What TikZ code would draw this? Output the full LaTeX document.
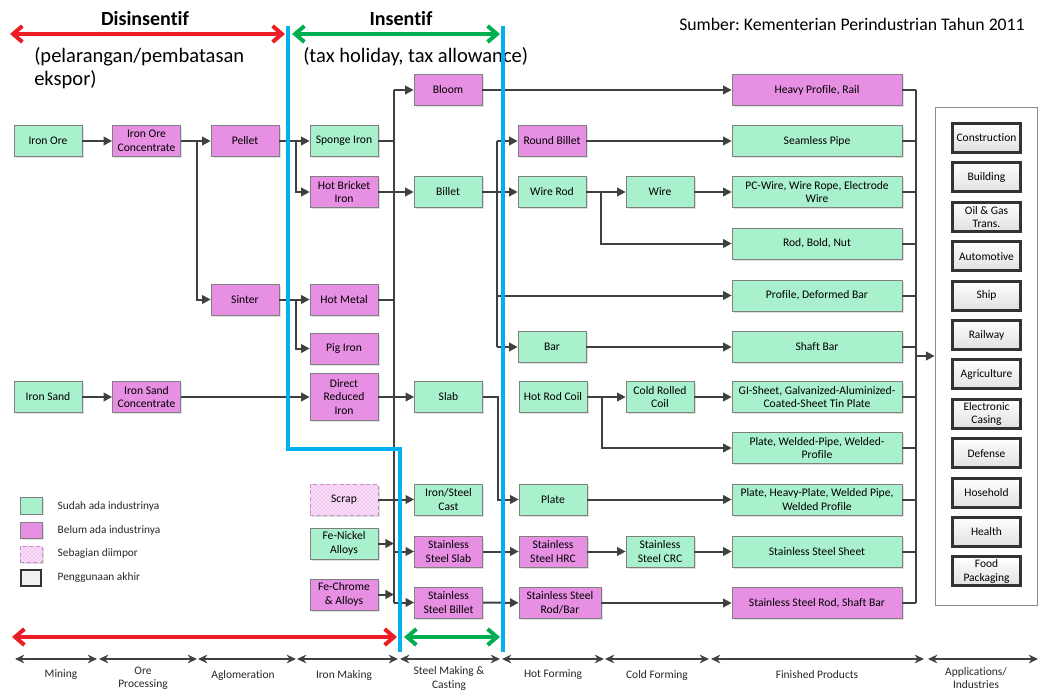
\documentclass[tikz,border=0pt]{standalone}
\usepackage{fontspec}
\setmainfont{Carlito}[Ligatures={NoCommon}]
\frenchspacing
\usetikzlibrary{arrows.meta,shadows,patterns}
\definecolor{gfill}{HTML}{A9F0CC}
\definecolor{pfill}{HTML}{E68FE3}
\definecolor{bordc}{HTML}{808080}
\definecolor{conn}{HTML}{404040}
\definecolor{bluel}{HTML}{00B0F0}
\definecolor{redl}{HTML}{EE1C25}
\definecolor{greenl}{HTML}{00B050}
\begin{document}
\begin{tikzpicture}[x=0.75pt,y=-0.75pt,
  bx/.style={draw=bordc, line width=0.5pt, align=center, inner sep=1pt,
    minimum width=51pt, minimum height=23.25pt,
    font=\fontsize{8.7}{10.3}\selectfont,
    drop shadow={opacity=0.25, shadow xshift=1.2pt, shadow yshift=-1.2pt}},
  gb/.style={bx, fill=gfill},
  pb/.style={bx, fill=pfill},
  scrapbox/.style={bx, draw=pfill!70!gray, densely dashed, fill=pfill!30,
    postaction={pattern=crosshatch dots, pattern color=pfill}},
  prod/.style={minimum width=127.5pt},
  appb/.style={draw=black!80, line width=2.2pt, top color=white, bottom color=black!12,
    minimum width=51pt, minimum height=21.75pt, align=center, inner sep=0.5pt,
    font=\fontsize{8.6}{10}\selectfont},
  ln/.style={draw=conn, line width=1.5pt},
  ar/.style={ln, -{Triangle[length=6.5pt,width=6.5pt]}},
  blueln/.style={draw=bluel, line width=3pt},
  redar/.style={draw=redl, line width=3pt, {Straight Barb[length=7pt,width=12pt]}-{Straight Barb[length=7pt,width=12pt]}},
  greenar/.style={draw=greenl, line width=3pt, {Straight Barb[length=7pt,width=12pt]}-{Straight Barb[length=7pt,width=12pt]}},
  axar/.style={draw=conn, line width=1.1pt, {Stealth[length=7pt,width=6.5pt]}-{Stealth[length=7pt,width=6.5pt]}},
  axlbl/.style={align=center, font=\fontsize{8.6}{9.8}\selectfont, text=black!85},
  lgt/.style={anchor=west, font=\fontsize{8.5}{10}\selectfont, text=black!85}
]
\useasboundingbox (0,0) rectangle (1042,692);

% ---------- headings ----------
\node[font=\fontsize{15}{17}\bfseries\selectfont] (dis) at (145,19) {Disinsentif};
\node[font=\fontsize{15}{17}\bfseries\selectfont] (ins) at (401,19) {Insentif};
\node[anchor=west, align=left, inner sep=0pt, font=\fontsize{15.4}{17.25}\selectfont] (pel) at (34,68.5) {(pelarangan/pembatasan\\ekspor)};
\node[anchor=west, inner sep=0pt, font=\fontsize{15.4}{17}\selectfont] (tax) at (303,57) {(tax holiday, tax allowance)};
\node[anchor=east, inner sep=0pt, font=\fontsize{13.3}{15}\selectfont] (src) at (1025,24) {Sumber: Kementerian Perindustrian Tahun 2011};

% ---------- mining / ore / agglomeration / iron making ----------
\node[gb] (ore) at (48,141) {Iron Ore};
\node[pb] (orec) at (146.5,141) {Iron Ore\\Concentrate};
\node[pb] (pellet) at (245,141) {Pellet};
\node[pb] (sinter) at (245,299.5) {Sinter};
\node[gb] (sponge) at (344,141) {Sponge Iron};
\node[pb] (hbi) at (344,192) {Hot Bricket\\Iron};
\node[pb] (hotm) at (344,299.5) {Hot Metal};
\node[pb] (pig) at (344,348.5) {Pig Iron};
\node[pb, minimum height=35.25pt] (dri) at (344,397) {Direct\\Reduced\\Iron};
\node[gb] (sand) at (48,397) {Iron Sand};
\node[pb] (sandc) at (146.5,397) {Iron Sand\\Concentrate};
\node[scrapbox] (scrap) at (344,499.5) {Scrap};
\node[gb] (feni) at (344,543.5) {Fe-Nickel\\Alloys};
\node[pb] (fecr) at (344,594.5) {Fe-Chrome\\\& Alloys};

% ---------- steel making ----------
\node[pb] (bloom) at (448,90) {Bloom};
\node[gb] (billet) at (448,192) {Billet};
\node[gb] (slab) at (448.5,397) {Slab};
\node[gb] (cast) at (448.5,499.5) {Iron/Steel\\Cast};
\node[pb] (ssslab) at (448.5,551.5) {Stainless\\Steel Slab};
\node[pb] (ssbillet) at (448.5,602.5) {Stainless\\Steel Billet};

% ---------- hot forming ----------
\node[pb] (rbillet) at (552,141) {Round Billet};
\node[gb] (wrod) at (552,192) {Wire Rod};
\node[gb] (bar) at (552,347) {Bar};
\node[gb] (hrc) at (553,397) {Hot Rod Coil};
\node[gb] (plate) at (553,499.5) {Plate};
\node[pb] (sshrc) at (553,551.5) {Stainless\\Steel HRC};
\node[pb, minimum width=61.5pt] (ssrod) at (560,603) {Stainless Steel\\Rod/Bar};

% ---------- cold forming ----------
\node[gb] (wire) at (660,192) {Wire};
\node[gb] (crc) at (660,397) {Cold Rolled\\Coil};
\node[gb] (sscrc) at (660,551.5) {Stainless\\Steel CRC};

% ---------- finished products ----------
\node[pb, prod] (heavy) at (817,90) {Heavy Profile, Rail};
\node[gb, prod] (seamless) at (817,141) {Seamless Pipe};
\node[gb, prod] (pcwire) at (817,192) {PC-Wire, Wire Rope, Electrode\\Wire};
\node[gb, prod] (rbn) at (817,243.5) {Rod, Bold, Nut};
\node[gb, prod] (profile) at (817,295.5) {Profile, Deformed Bar};
\node[gb, prod] (shaft) at (817,347) {Shaft Bar};
\node[gb, prod] (gi) at (817,397) {GI-Sheet, Galvanized-Aluminized-\\Coated-Sheet Tin Plate};
\node[gb, prod] (pwp) at (817,448) {Plate, Welded-Pipe, Welded-\\Profile};
\node[gb, prod] (php) at (817,499.5) {Plate, Heavy-Plate, Welded Pipe,\\Welded Profile};
\node[gb, prod] (sss) at (817,551.5) {Stainless Steel Sheet};
\node[pb, prod] (ssr) at (817,603) {Stainless Steel Rod, Shaft Bar};

% ---------- applications ----------
\node[draw=black!45, line width=0.6pt, fill=white, minimum width=76.5pt, minimum height=374pt, inner sep=0pt] (appbox) at (986,356.5) {};
\node[appb] (a1) at (986.5,138) {Construction};
\node[appb] (a2) at (986.5,177.4) {Building};
\node[appb] (a3) at (986.5,216.8) {Oil \& Gas\\Trans.};
\node[appb] (a4) at (986.5,256.2) {Automotive};
\node[appb] (a5) at (986.5,295.6) {Ship};
\node[appb] (a6) at (986.5,335) {Railway};
\node[appb] (a7) at (986.5,374.4) {Agriculture};
\node[appb] (a8) at (986.5,413.8) {Electronic\\Casing};
\node[appb] (a9) at (986.5,453.2) {Defense};
\node[appb] (a10) at (986.5,492.6) {Hosehold};
\node[appb] (a11) at (986.5,532) {Health};
\node[appb] (a12) at (986.5,571.4) {Food\\Packaging};

% ---------- connectors ----------
\coordinate (j1) at (197,141);
\coordinate (j2) at (296,141);
\coordinate (j3) at (296,299.5);
\coordinate (b1t) at (394,90);
\coordinate (b1b) at (394,602.5);
\coordinate (b2t) at (497,141);
\coordinate (b2b) at (497,347);
\coordinate (j4) at (601,192);
\coordinate (j5) at (498,397);
\coordinate (j6) at (602,397);
\coordinate (b3t) at (916,90);
\coordinate (b3b) at (916,603);
\coordinate (b3m) at (916,356);

\draw[ar] (ore) -- (orec);
\draw[ln] (orec.east) -- (j1);
\draw[ar] (j1) -- (pellet);
\draw[ar] (j1) |- (sinter);
\draw[ln] (pellet.east) -- (j2);
\draw[ar] (j2) -- (sponge);
\draw[ar] (j2) |- (hbi);
\draw[ln] (sinter.east) -- (j3);
\draw[ar] (j3) -- (hotm);
\draw[ar] (j3) |- (pig);
\draw[ar] (sand) -- (sandc);
\draw[ar] (sandc) -- (dri);

\draw[ln] (b1t) -- (b1b);
\draw[ar] (b1t) -- (bloom);
\draw[ar] (b1b) -- (ssbillet);
\draw[ln] (sponge.east) -- (sponge.east -| b1t);
\draw[ar] (hbi) -- (billet);
\draw[ln] (hotm.east) -- (hotm.east -| b1t);
\draw[ar] (dri) -- (slab);
\draw[ar] (scrap) -- (cast);
\draw[ar] (feni.east) -- (feni.east -| b1t);
\draw[ar] (fecr.east) -- (fecr.east -| b1t);
\draw[ar] (ssslab.west -| b1t) -- (ssslab);

\draw[ln] (billet.east) -- (billet.east -| b2t);
\draw[ln] (b2t) -- (b2b);
\draw[ar] (b2t) -- (rbillet);
\draw[ar] (wrod.west -| b2t) -- (wrod);
\draw[ar] (profile.west -| b2t) -- (profile);
\draw[ar] (b2b) -- (bar);

\draw[ar] (bloom) -- (heavy);
\draw[ar] (rbillet) -- (seamless);
\draw[ln] (wrod.east) -- (j4);
\draw[ar] (j4) -- (wire);
\draw[ar] (j4) |- (rbn);
\draw[ar] (wire) -- (pcwire);
\draw[ar] (bar) -- (shaft);
\draw[ar] (slab.east) -- (j5) |- (plate);
\draw[ln] (hrc.east) -- (j6);
\draw[ar] (j6) -- (crc);
\draw[ar] (j6) |- (pwp);
\draw[ar] (crc) -- (gi);
\draw[ar] (plate) -- (php);
\draw[ar] (ssslab) -- (sshrc);
\draw[ar] (sshrc) -- (sscrc);
\draw[ar] (sscrc) -- (sss);
\draw[ar] (ssbillet) -- (ssrod);
\draw[ar] (ssrod) -- (ssr);

\foreach \p in {heavy,seamless,pcwire,rbn,profile,shaft,gi,pwp,php,sss,ssr}
  \draw[ln] (\p.east) -- (\p.east -| b3t);
\draw[ln] (b3t) -- (b3b);
\draw[ar] (b3m) -- (appbox.west |- b3m);

% ---------- blue boundary lines ----------
\coordinate (u1) at (288,26);
\coordinate (u2) at (288,449);
\coordinate (u3) at (400,449);
\coordinate (u4) at (400,652);
\coordinate (v1) at (503,26);
\coordinate (v2) at (503,652);
\draw[blueln, line join=miter] (u1) -- (u2) -- (u3) -- (u4);
\draw[blueln] (v1) -- (v2);

% ---------- incentive arrows ----------
\coordinate (r1) at (10,34);
\coordinate (r2) at (285,34);
\coordinate (g1) at (292,34);
\coordinate (g2) at (500,34);
\coordinate (r3) at (12,637);
\coordinate (r4) at (397,637);
\coordinate (g3) at (404,637);
\coordinate (g4) at (500,637);
\draw[redar] (r1) -- (r2);
\draw[greenar] (g1) -- (g2);
\draw[redar] (r3) -- (r4);
\draw[greenar] (g3) -- (g4);

% ---------- bottom axis ----------
\foreach \a/\b in {15/97, 99/197, 198/296, 297/398, 400/500, 502/604, 605/709, 711/924, 928/1038}
  \draw[axar] (\a,659) -- (\b,659);
\node[axlbl] (s1) at (61,675) {Mining};
\node[axlbl] (s2) at (143,678.5) {Ore\\Processing};
\node[axlbl] (s3) at (243,675) {Aglomeration};
\node[axlbl] (s4) at (344,675) {Iron Making};
\node[axlbl] (s5) at (449,678.5) {Steel Making \&\\Casting};
\node[axlbl] (s6) at (553,675) {Hot Forming};
\node[axlbl] (s7) at (657,675) {Cold Forming};
\node[axlbl] (s8) at (817,675) {Finished Products};
\node[axlbl] (s9) at (976,678.5) {Applications/\\Industries};

% ---------- legend ----------
\node[gb, minimum width=16.5pt, minimum height=12.5pt] (lg1) at (31,505.5) {};
\node[pb, minimum width=16.5pt, minimum height=12pt] (lg2) at (31,530) {};
\node[scrapbox, minimum width=16.5pt, minimum height=12pt] (lg3) at (31,554) {};
\node[draw=black!80, line width=2.2pt, fill=black!6, minimum width=15pt, minimum height=12pt] (lg4) at (31,578) {};
\node[lgt] (lt1) at (53,506) {Sudah ada industrinya};
\node[lgt] (lt2) at (53,530) {Belum ada industrinya};
\node[lgt] (lt3) at (53,554) {Sebagian diimpor};
\node[lgt] (lt4) at (53,578) {Penggunaan akhir};
\end{tikzpicture}
\end{document}
